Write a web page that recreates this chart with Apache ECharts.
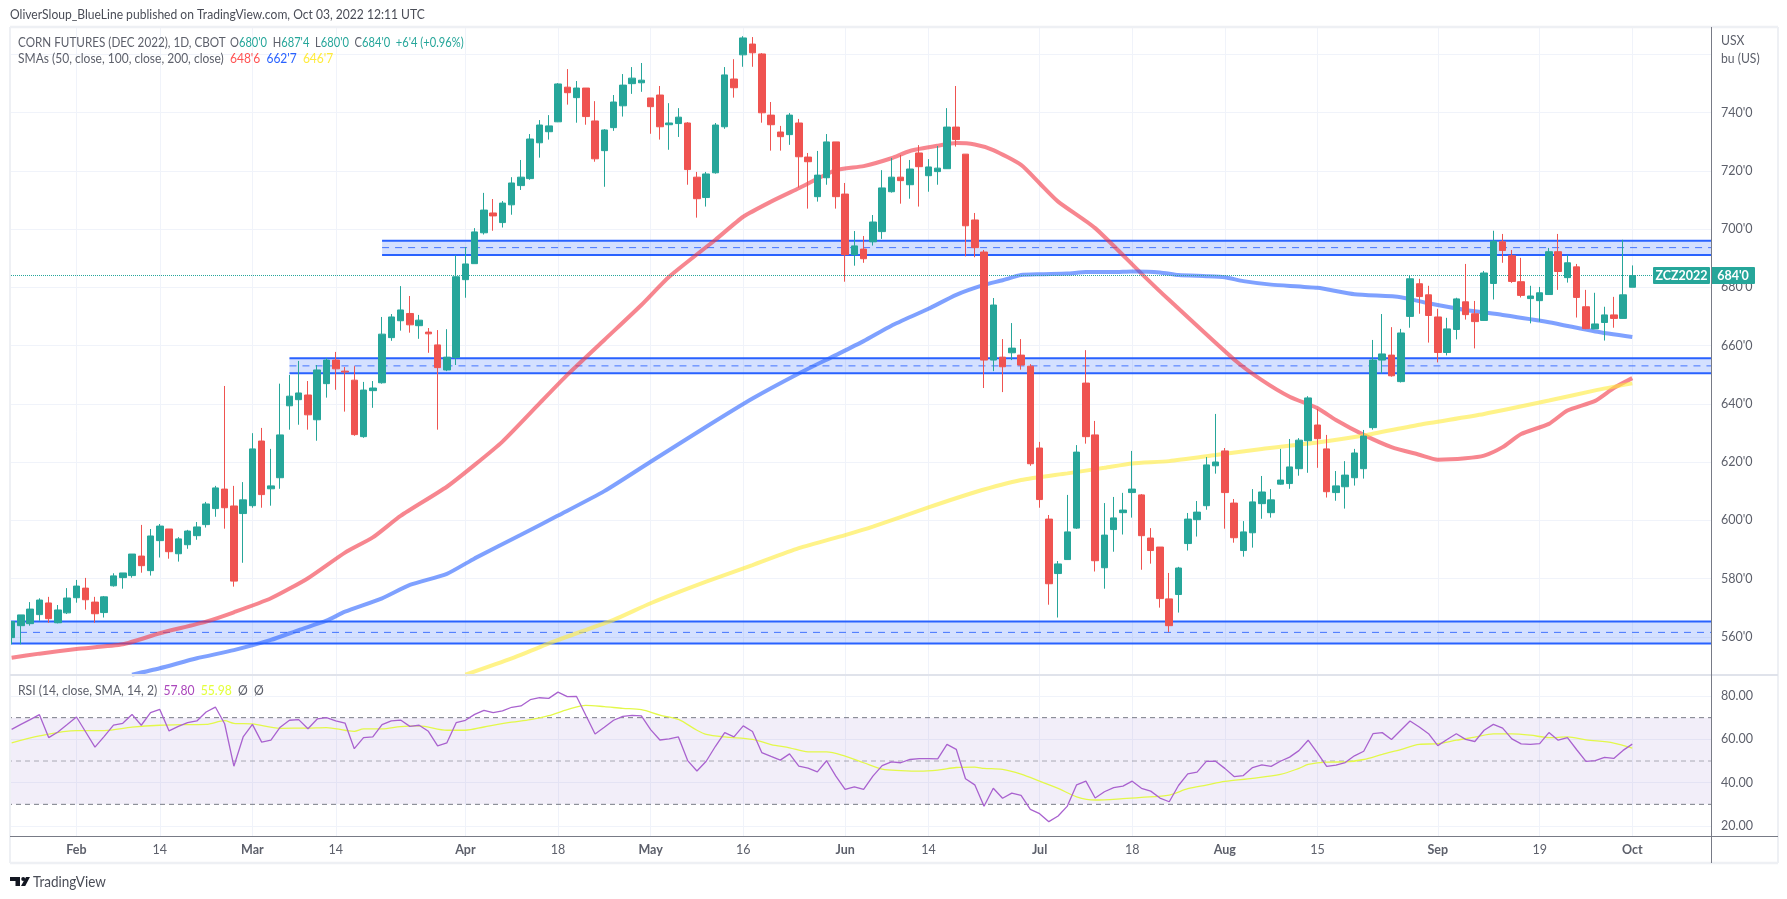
<!DOCTYPE html>
<html><head><meta charset="utf-8">
<style>html,body{margin:0;padding:0;background:#fff}#c{width:1787px;height:899px}</style>
<script src="https://cdn.jsdelivr.net/npm/echarts@6/dist/echarts.min.js"></script>
</head><body><div id="c"></div>
<script>
const opens=[559.7,563.8,564.5,567.6,571.6,564.8,568.2,573.4,576.7,571.9,
568.3,577.5,580.3,581,587.7,582.7,593,597,588.5,591.6,
594.7,598.5,604,610.7,604.9,602.3,605,627.2,610.8,614.6,
639.3,641.4,643,634.5,646.9,655,651.2,648.1,628.7,644.5,
647.2,662.7,668.5,671,666.8,664.6,660.2,651.6,655.9,682.6,
688.1,698.7,705.5,702.2,708.3,714.9,717.3,729.6,733.4,736.8,
748.7,745.1,748.4,737.1,726.9,734.8,742.3,749.9,750.2,745,
746,735.8,736.2,736.4,717.8,710.8,719.3,735.1,751.5,759.8,
763.5,760.1,739.1,733.3,732.4,736.4,724.7,711.1,717.6,729.9,
712,691.2,693.1,695.6,699.1,712.8,717.8,715.2,726.1,718.3,
719.7,720.7,735,725.7,703.1,692.1,655,656,657.5,656.7,
652.9,624.8,600.4,581.7,586.5,597.3,647.1,629.3,583.7,596.8,
602.6,609.5,608.7,593.9,590.8,573,574.5,592,600.2,605,
618.7,623.8,605.9,589.6,595.7,605.7,602.6,612.4,612.6,617.7,
627.3,632.7,624.5,609.5,611.5,614.6,617.7,631.8,655,656.7,
647.6,670,681.2,677.4,669.8,657.6,665.5,675,670.9,668.6,
681.3,695.6,690.8,681.9,676.1,675.4,677.5,692.2,683.3,687,
673.3,665.7,667.9,670.5,669.3,680];
const highs=[565.2,567.5,571.9,573.2,573.7,570.9,576.7,579.5,580.2,573.7,
574,581.8,581.9,588.4,598.4,597,598.7,597,594.2,596.7,
599.4,606.3,611.8,646.1,611.8,613.1,629.9,631.7,624.5,646.9,
649.9,654.7,647.8,653.3,655.7,657.8,652.6,652.9,647.5,647.8,
669.8,670.8,680.4,677,670.5,666,665.3,665.6,691,693.8,
700.3,712.4,710.3,709.6,717.8,723.7,732.6,737.4,739.1,750.1,
754.9,750.8,748.4,743.9,734.3,746,753.2,755.6,757,745,
749.1,743.2,741.5,736.7,719.6,719.6,736.4,755.6,758.3,766.2,
765.9,760.4,743.6,735.4,739.8,737.8,726.1,726.8,732.6,729.9,
715.8,699.3,697.6,704.8,720.2,724.4,725.4,723.7,728.8,724,
728.5,741.5,749.1,725.7,705.5,692.8,676.3,662.2,667.7,662.2,
653.6,626.9,601.8,586,608.7,625.8,658.4,634.1,605.9,608,
609.4,623.8,609,597.3,590.8,581.9,584,602.5,606.6,621.7,
636.5,624.8,607.3,599.7,610.7,615.2,610.7,624.5,627.9,628.2,
642.6,638.2,629.3,616.9,620.3,624.5,631,661.9,670.8,666.3,
665.7,683.9,682.9,680.5,672.6,669.5,676.4,688,675.3,685.6,
699.4,698.3,692.8,690.1,680.5,680.1,693.5,698.3,691.1,688,
679.1,678.1,673.3,676.7,696.3,687.5];
const lows=[557.4,557.4,563.8,565.5,564.8,564.6,567.8,571.7,569.3,564.8,
566.6,577.2,576.5,580.3,582,581,587.2,586.8,585.8,590.2,
593.3,597.5,601.2,597.1,577.2,585.4,604.3,604.3,605,610.8,
631.1,632.8,631.1,627.3,642.1,644.8,637.3,629,628.3,638.6,
646.9,661.6,665.1,664.4,662.3,657.5,631.1,651.2,653.3,676.4,
688.1,698.1,699.4,700.5,704.9,713.4,716.9,724.5,730.7,736.7,
742.7,736.5,735.8,723.1,714.5,733.7,738.6,746.4,747.1,732.7,
730.7,727.2,731.6,715.2,703.9,707.7,719,734.4,745.1,755.7,
755.7,736.5,726.9,726.9,728.9,714.2,707,709.4,715.2,707,
681.9,687.4,688.4,694.3,696.6,712.5,708.7,710.4,707.7,712.8,
715.2,720.6,728.3,690.6,690.3,645.4,651.2,644,655,651.7,
618.7,604.3,571,566.6,586.5,597,626.3,582.4,576.5,589.2,
595.1,600.9,583,585.1,570,561.6,568.3,589.6,594.4,603.6,
616,597.1,592.3,587.5,590.6,600.5,600.9,612.2,610.8,615.3,
616.3,618,607.8,606.7,604,611.9,614.3,631.1,650.4,649.3,
647.3,666.1,670.9,661,654.2,656.6,662.1,668.9,659,668.5,
675.8,688.4,681.5,676.5,667.6,668.2,677.4,679.1,681.6,669.6,
665.6,665.7,661.7,666.1,669.2,680];
const closes=[565.2,567.5,569.5,572.6,566.2,569.2,573.3,577.4,572.7,567.9,
573.7,580.9,581.9,588.4,584.4,594.6,598,589.2,593.6,596.3,
597.7,605.6,611.1,604.3,579.1,607,624.5,608.8,611.8,629.3,
642.6,643.7,636.2,651.6,655,652,650.9,629.4,644.7,645.4,
663.9,669.8,672.2,667.1,668.7,664,652.4,656,683.6,688,
699,706.5,704.5,708.9,715.8,717.8,730.9,735.7,735.4,749.8,
746.8,748.4,738.6,724.1,734,743.6,749.4,751.8,751.1,742,
735.1,736.4,738.4,720.4,710.4,718.9,735.7,752.9,748.5,765.6,
760.5,739.9,735.8,731.7,739.1,724.8,723.1,718.5,729.9,711.1,
691.2,694.2,689.8,702.4,714.1,717.8,716.6,720.6,721.4,721.3,
720.9,735,730.7,701.1,693.6,655,673.9,652.7,659.1,653.3,
619.4,607.1,578.2,585,596,623.4,628.7,586.1,594.9,600.8,
603.5,610.7,594.7,589.6,573.1,563.8,583.6,600.4,602.8,619,
620,609.5,594,596,606.3,609.7,607,613.8,618.3,627.5,
642,628,609.8,611.8,615.5,623.1,628.9,655,657.1,649.6,
664.3,682.9,676.8,670.3,657.6,665.7,676,670.6,668.2,684.9,
695.8,692.6,682,677.2,677,678.1,692.2,685.4,688.4,676.5,
665.8,667.4,670.5,669.3,677.4,684];

// moving averages: [category index, value]
const sma50=[[0,552.8],[3,554.2],[7,555.8],[12,557.4],[16,561.2],[21,565.2],[24,568.4],[28,573.2],[32,580.1],[36,588.9],[39,594.1],[42,601.5],[47,611.5],[50,619],[53,627],[57,640.1],[60,649.9],[64,661.9],[68,673.9],[71,683.6],[76,696.3],[79,704.2],[82,709.4],[85,714],[89,720.2],[92,721.6],[95,724.3],[97,726.8],[100,728.6],[102,729.5],[104,729],[106,727.1],[109,722],[111,715.7],[113,709.4],[117,700.3],[122,684.7],[125,675.6],[132,655.2],[135,648.1],[138,642.4],[141,638.5],[143,634.4],[146,629.3],[149,625.1],[152,622.5],[154,620.8],[157,621.3],[159,622.2],[161,625.1],[163,629.6],[166,633.1],[168,637.7],[171,641],[173,645.4],[175,648.8]];
const sma100=[[13,547],[16,549.2],[20,552.6],[24,555.4],[28,558.9],[31,562.3],[34,565.5],[36,568.6],[40,573.2],[43,577.8],[47,581.6],[50,586.9],[55,595],[59,601.6],[64,610],[69,620.1],[75,632.1],[80,641.8],[85,650.4],[89,656.7],[92,661.5],[95,666.8],[99,672.6],[102,677.4],[105,680.8],[107,682.4],[109,684.2],[111,684.5],[114,684.7],[116,685.2],[119,685.2],[121,685.4],[124,685.1],[126,684.2],[129,683.8],[131,683.4],[133,682.1],[136,680.9],[141,679.8],[145,677.6],[150,676.6],[153,674.5],[157,672.2],[161,670.5],[166,668],[171,664.8],[175,662.9]];
const sma200=[[49,547],[54,552.6],[59,558.9],[65,565.8],[69,571.5],[75,578.9],[80,584.6],[85,590.4],[90,594.9],[93,597.8],[99,604.4],[104,609.6],[109,613.8],[114,616.1],[118,618],[121,619.5],[125,620.3],[130,622.4],[135,624.5],[141,626.7],[146,629.1],[152,632.8],[159,636.5],[166,641.1],[171,644.6],[175,647]];

const rsi=[64.6,66.9,69.1,71.4,60.8,63.4,66.8,70.3,63.4,56.4,
61.4,66.6,67.4,71.5,66.5,72.3,73.8,63.9,66,67.7,
68.5,72.6,74.9,67.2,47.6,61.1,66.9,58.7,59.6,65.6,
68.8,69.1,64.9,69.4,70,68.5,67.5,55.7,60.8,61.1,
66.8,68.5,68.9,66,66.5,63.7,57,58.4,67.7,68.8,
71.5,73.4,72.3,73.1,74.8,75.4,78.3,79.2,78.9,81.8,
79.7,79.8,71.1,62.5,65.6,68.8,70.6,71.1,70.8,64.5,
59.7,60.2,61.1,50.2,45.4,49.9,56.8,63.1,61.1,66.2,
63.6,53.9,52.1,50.4,53.3,47.6,46.7,45,50.1,43,
36.9,38.1,36.9,43,47.9,49.6,49.2,50.7,51.1,51.1,
51,57.7,55.4,41.8,39,29.1,37.4,32.8,35.2,34.1,
27.7,25.7,22,24.6,29.2,39,40.7,32.9,35.8,37.7,
38.4,40.7,37.4,36.1,32.9,31.2,38.7,44.1,44.9,49.8,
49.9,46.6,42.8,43.3,47,48.2,47.5,49.9,51.8,54.8,
59.6,53.8,47.5,48.1,49.3,52.4,54.5,62.6,63.1,59.9,
64.2,68.5,65.7,62.6,57.1,59.9,62.6,60,59,64.2,
66.9,65.2,60.2,57.9,57.7,58,63.1,59.6,60.8,55.2,
49.8,50.2,51.7,51.2,54.9,57.8];
const rsiMa=[[0,58.4],[3,61.6],[7,64],[10,64],[13,65.6],[16,66.5],[19,66.8],[21,66.9],[23,68.6],[24,67.4],[26,67.1],[29,65.1],[32,65.2],[34,65.4],[36,64.2],[37,63.7],[38,64.8],[40,64.8],[42,65.9],[44,66.2],[47,64.2],[49,64.2],[51,65.7],[54,67.9],[56,69.1],[58,70.9],[60,73.7],[62,75.7],[64,75.1],[66,74.3],[68,73.7],[70,71.2],[72,69.2],[74,64.2],[75,62.3],[77,61.1],[80,60],[82,57.6],[84,56.1],[86,54.2],[88,54.2],[90,52.2],[92,49.2],[94,46.2],[96,45.6],[98,45.3],[100,45.8],[102,47],[104,47.2],[105,46.6],[107,46.1],[109,43.9],[111,40.7],[113,37.4],[115,33.5],[117,32],[120,32.6],[122,33.2],[125,34.3],[127,37.2],[129,38.9],[131,40.6],[134,42],[137,43.8],[139,46.6],[140,48.4],[142,49.5],[144,49.6],[146,50.7],[148,53.1],[150,55.3],[152,57.7],[154,58],[156,59.6],[158,61],[160,62.5],[162,62.5],[164,61.9],[166,60.8],[168,61.1],[170,59.8],[173,58.3],[175,56]];

// zones drawn on the price pane
const bandStart=[40,30,0];
const bandTop=[696,655.6,565.2];
const bandMid=[693.6,653,561.5];
const bandBottom=[691.1,650.5,557.7];
const rsiLevels=[70,50,30];
const lastPrice=684;

// category axis: CBOT sessions
const holidays=['2022-02-21','2022-04-15','2022-05-30','2022-06-20','2022-07-04','2022-09-05'];
const tickLabels={'2022-02-01':'Feb','2022-02-14':'14','2022-03-01':'Mar','2022-03-14':'14','2022-04-01':'Apr','2022-04-18':'18','2022-05-02':'May','2022-05-16':'16','2022-06-01':'Jun','2022-06-14':'14','2022-07-01':'Jul','2022-07-18':'18','2022-08-01':'Aug','2022-08-15':'15','2022-09-01':'Sep','2022-09-19':'19','2022-10-03':'Oct'};
const categories=[];
for(let d=new Date(Date.UTC(2022,0,21));categories.length<184;d=new Date(d.getTime()+864e5)){
  const s=d.toISOString().slice(0,10),w=d.getUTCDay();
  if(w!==0&&w!==6&&!holidays.includes(s))categories.push(s);
}
const FONT='Lato,"Liberation Sans",sans-serif';
const FS=13.5,AX=12.5;
const GREY='#5d606b',UP='#26a69a',DOWN='#ef5350',GRID='#f0f3fa';
const isTick=(i,v)=>tickLabels[v]!==undefined;
const L=7,W=1704;

function bandItem(params,api){
  const cs=params.coordSys,s=api.value(0);
  const x0=s===0?cs.x:api.coord([s,0])[0],x1=cs.x+cs.width;
  const yT=api.coord([0,api.value(1)])[1],yM=api.coord([0,api.value(2)])[1],yB=api.coord([0,api.value(3)])[1];
  const ln=(y,style)=>({type:'line',shape:{x1:x0,y1:y,x2:x1,y2:y},style});
  return {type:'group',children:[
    {type:'rect',shape:{x:x0,y:yT,width:x1-x0,height:yB-yT},style:{fill:'rgba(41,98,255,0.2)'}},
    ln(yT,{stroke:'#2962ff',lineWidth:2}),ln(yB,{stroke:'#2962ff',lineWidth:2}),
    ln(yM,{stroke:'rgba(41,98,255,0.85)',lineWidth:1,lineDash:[7,6]})
  ]};
}
function rsiZone(params,api){
  const cs=params.coordSys,x0=cs.x,x1=cs.x+cs.width;
  const y=[api.coord([0,api.value(1)])[1],api.coord([0,api.value(2)])[1],api.coord([0,api.value(3)])[1]];
  const ln=(v,c)=>({type:'line',shape:{x1:x0,y1:v,x2:x1,y2:v},style:{stroke:c,lineWidth:1,lineDash:[5,4]}});
  return {type:'group',children:[
    {type:'rect',shape:{x:x0,y:y[0],width:x1-x0,height:y[2]-y[0]},style:{fill:'rgba(126,87,194,0.1)'}},
    ln(y[0],'#787b86'),ln(y[1],'rgba(120,123,134,0.6)'),ln(y[2],'#787b86')
  ]};
}
function priceTag(params,api){
  const cs=params.coordSys,xr=cs.x+cs.width,y=api.coord([0,api.value(1)])[1];
  const box=(x,w,t)=>[{type:'rect',shape:{x,y:y-8.5,width:w,height:17,r:1},style:{fill:UP}},
    {type:'text',style:{x:x+w/2,y,text:t,fill:'#fff',font:'bold 12.5px '+FONT,align:'center',verticalAlign:'middle'}}];
  return {type:'group',children:box(xr-58,57,'ZCZ2022').concat(box(xr,44,lastPrice+"'0"))};
}
const line=(name,data,color)=>({name,type:'line',xAxisIndex:1,yAxisIndex:1,data,smooth:0.2,showSymbol:false,z:3,
  lineStyle:{color,width:4},itemStyle:{color},silent:true});

const legend1a="{g|CORN FUTURES (DEC 2022), 1D, CBOT}";
const legend1b="{g|O}{t|680'0}  {g|H}{t|687'4}  {g|L}{t|680'0}  {g|C}{t|684'0}  {t|+6'4 (+0.96%)}";
const legend2="{g|SMAs (50, close, 100, close, 200, close)}  {r|648'6}  {b|662'7}  {y|646'7}";
const legend3="{g|RSI (14, close, SMA, 14, 2)}  {p|57.80}  {l|55.98}  {g|Ø}  {g|Ø}";
const F=FS+'px '+FONT;
const rich={g:{fill:GREY,font:F},t:{fill:UP,font:F},r:{fill:'#ff5252',font:F},b:{fill:'#2962ff',font:F},y:{fill:'#ffeb3b',font:F},p:{fill:'#ab47bc',font:F},l:{fill:'#e3ff3a',font:F}};
const txt=(x,y,text,sx,extra)=>({type:'text',z:120,x,y,scaleX:sx,style:Object.assign({text,fill:GREY,font:F,verticalAlign:'middle',rich},extra||{})});
const seg=(x1,y1,x2,y2,stroke,lineWidth)=>({type:'line',z:110,shape:{x1,y1,x2,y2},style:{stroke,lineWidth}});

const chart=echarts.init(document.getElementById('c'),null,{renderer:'canvas'});
chart.setOption({
  animation:false,backgroundColor:'#fff',
  grid:[
    {left:L,width:W,top:27,height:809,outerBoundsMode:'none'},
    {left:L,width:W,top:-4,height:699,outerBoundsMode:'none'},
    {left:L,width:W,top:652.67,height:216.67,outerBoundsMode:'none'}
  ],
  xAxis:[
    {type:'category',gridIndex:0,data:categories,boundaryGap:true,axisLine:{show:false},axisTick:{show:false},
     splitLine:{show:true,alignWithLabel:true,interval:isTick,lineStyle:{color:GRID,width:1}},
     axisLabel:{interval:isTick,margin:7,color:GREY,fontFamily:FONT,fontSize:AX,hideOverlap:false,
       formatter:v=>{const t=tickLabels[v]||'';return /^[A-Z]/.test(t)?'{m|'+t+'}':t;},
       rich:{m:{fontWeight:'bold',color:GREY,fontFamily:FONT,fontSize:AX}}}},
    {type:'category',gridIndex:1,data:categories,show:false},
    {type:'category',gridIndex:2,data:categories,show:false}
  ],
  yAxis:[
    {type:'value',gridIndex:0,show:false,min:0,max:1},
    {type:'value',gridIndex:1,position:'right',min:540,max:780,interval:20,axisLine:{show:false},axisTick:{show:false},
     splitLine:{show:true,showMinLine:false,showMaxLine:false,lineStyle:{color:GRID,width:1}},
     axisLabel:{margin:10,color:GREY,fontFamily:FONT,fontSize:AX,showMinLabel:false,showMaxLabel:false,formatter:v=>v>=760?'':v+"'0"}},
    {type:'value',gridIndex:2,position:'right',min:0,max:100,interval:20,axisLine:{show:false},axisTick:{show:false},
     splitLine:{show:true,showMinLine:false,showMaxLine:false,lineStyle:{color:GRID,width:1}},
     axisLabel:{margin:10,color:GREY,fontFamily:FONT,fontSize:AX,showMinLabel:false,showMaxLabel:false,formatter:v=>v.toFixed(2)}}
  ],
  series:[
    {type:'custom',xAxisIndex:1,yAxisIndex:1,z:1,silent:true,renderItem:bandItem,encode:{x:0,y:[1,2,3]},
     data:bandStart.map((s,i)=>[s,bandTop[i],bandMid[i],bandBottom[i]])},
    line('SMA 50',sma50,'rgba(242,54,69,0.6)'),
    line('SMA 100',sma100,'rgba(41,98,255,0.6)'),
    line('SMA 200',sma200,'rgba(255,235,59,0.6)'),
    {type:'candlestick',xAxisIndex:1,yAxisIndex:1,z:5,barWidth:7,silent:true,
     data:opens.map((o,i)=>[o,closes[i],lows[i],highs[i]]),
     itemStyle:{color:UP,color0:DOWN,borderColor:UP,borderColor0:DOWN,borderWidth:1},
     markLine:{silent:true,symbol:'none',animation:false,label:{show:false},
       lineStyle:{color:UP,type:'dotted',width:1},data:[{yAxis:lastPrice}]}},
    {type:'custom',xAxisIndex:1,yAxisIndex:1,z:20,silent:true,clip:false,renderItem:priceTag,encode:{x:0,y:1},data:[[175,lastPrice]]},
    {type:'custom',xAxisIndex:2,yAxisIndex:2,z:1,silent:true,renderItem:rsiZone,encode:{x:0,y:[1,2,3]},data:[[0].concat(rsiLevels)]},
    {name:'RSI',type:'line',xAxisIndex:2,yAxisIndex:2,data:rsi,showSymbol:false,z:4,silent:true,lineStyle:{color:'#a962cf',width:1.3},itemStyle:{color:'#a962cf'}},
    {name:'RSI MA',type:'line',xAxisIndex:2,yAxisIndex:2,data:rsiMa,smooth:0.3,showSymbol:false,z:3,silent:true,lineStyle:{color:'#e3f84a',width:1.3},itemStyle:{color:'#e3f84a'}}
  ],
  graphic:{elements:[
    {type:'rect',z:105,shape:{x:0,y:27,width:9.5,height:840},style:{fill:'#fff'}},
    seg(10,27,1778,27,'#eef0f4',2.5),
    seg(10,27,10,863,'#eef0f4',2),
    seg(1778,27,1778,863,'#eef0f4',2),
    seg(10,863,1778,863,'#eef0f4',2.5),
    seg(10,675,1778,675,'#e0e3eb',2),
    seg(10,836.5,1778,836.5,'#787b86',1),
    seg(1711.5,27,1711.5,863,'#787b86',1),
    txt(10,15,'OliverSloup_BlueLine published on TradingView.com, Oct 03, 2022 12:11 UTC',0.895,{fill:'#4a4d57'}),
    txt(18,42.5,legend1a,0.865),
    txt(230,42.5,legend1b,0.825),
    txt(18,59,legend2,0.89),
    txt(18,691,legend3,0.9),
    txt(1721,41,'USX',0.9),
    txt(1721,59,'bu (US)',0.9),
    {type:'polygon',z:120,shape:{points:[[10,877],[20,877],[20,886],[15.5,886],[15.5,881],[10,881]]},style:{fill:'#131722'}},
    {type:'circle',z:120,shape:{cx:23.2,cy:879,r:2},style:{fill:'#131722'}},
    {type:'polygon',z:120,shape:{points:[[21,886],[25.2,886],[30,877],[26,877]]},style:{fill:'#131722'}},
    txt(33,882,'TradingView',0.9,{fill:'#4a4d57',font:'15px '+FONT})
  ]}
});
</script></body></html>
